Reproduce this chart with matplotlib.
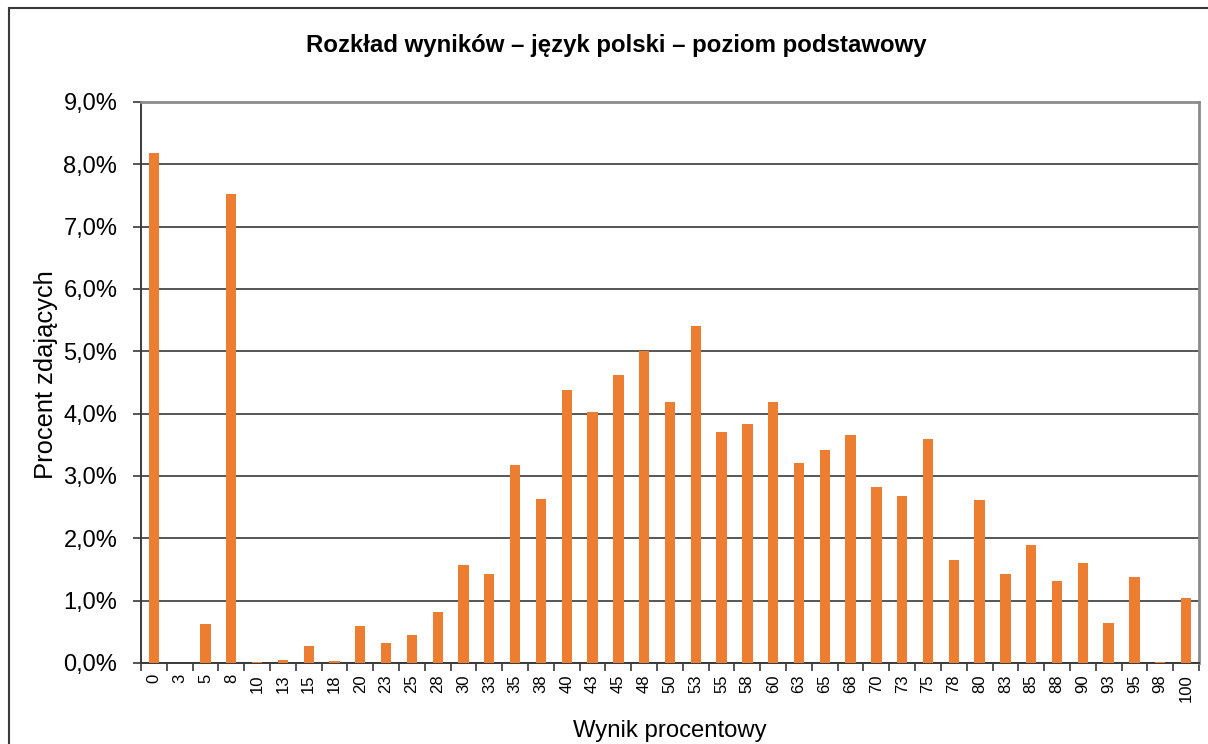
import numpy as np
import matplotlib.pyplot as plt
from matplotlib.patches import Rectangle
from matplotlib.ticker import FuncFormatter

plt.rcParams['font.family'] = ['Liberation Sans', 'DejaVu Sans']

# wyniki procentowe (kategorie osi X)
wyniki = ['0', '3', '5', '8', '10', '13', '15', '18', '20', '23', '25', '28',
          '30', '33', '35', '38', '40', '43', '45', '48', '50', '53', '55',
          '58', '60', '63', '65', '68', '70', '73', '75', '78', '80', '83',
          '85', '88', '90', '93', '95', '98', '100']

# procent zdajacych
procent = [8.18, 0.0, 0.63, 7.52, 0.01, 0.05, 0.27, 0.03, 0.59, 0.32, 0.45, 0.81,
           1.57, 1.43, 3.17, 2.63, 4.38, 4.02, 4.62, 5.00, 4.19, 5.41, 3.71,
           3.83, 4.19, 3.21, 3.41, 3.65, 2.82, 2.67, 3.60, 1.65, 2.62, 1.43,
           1.89, 1.31, 1.60, 0.64, 1.38, 0.02, 1.04]

fig = plt.figure(figsize=(12.08, 7.44), dpi=100)
ax = fig.add_axes([0.1167, 0.109, 0.8758, 0.754])

x = np.arange(len(wyniki))
ax.bar(x, np.array(procent) / 100, width=0.4, color='#ED7D31', zorder=3)

ax.set_xlim(-0.5, len(wyniki) - 0.5)
ax.set_ylim(0, 0.09)
ax.set_yticks(np.arange(0, 0.091, 0.01))
ax.yaxis.set_major_formatter(FuncFormatter(lambda v, p: f'{v * 100:.1f}%'.replace('.', ',')))
ax.grid(axis='y', color='#3a3a3a', linewidth=1.2, zorder=0)

ax.set_xticks(x)
ax.set_xticklabels(wyniki, rotation=90, fontsize=12)
ax.set_xticks(np.arange(-0.5, len(wyniki), 1), minor=True)
ax.tick_params(axis='x', which='major', length=0, pad=8)
ax.tick_params(axis='x', which='minor', length=6, width=1.2, color='#3a3a3a', direction='out')
ax.tick_params(axis='y', length=6, width=1.2, color='#3a3a3a', labelsize=17, pad=11)

for s in ['left', 'bottom']:
    ax.spines[s].set_color('#3a3a3a')
    ax.spines[s].set_linewidth(1.4)
for s in ['top', 'right']:
    ax.spines[s].set_color('#8c8c8c')
    ax.spines[s].set_linewidth(2)

ax.set_xlabel('Wynik procentowy', fontsize=17.2, labelpad=13)
ax.set_ylabel('Procent zdających', fontsize=18.4)
ax.yaxis.set_label_coords(-0.0785, 0.513)
fig.text(0.5104, 0.9395, 'Rozkład wyników – język polski – poziom podstawowy',
         ha='center', va='center', fontsize=17.3, fontweight='bold')

# ramka wykresu
fig.patches.append(Rectangle((9 / 1208, -0.05), 1.2, (744 - 8) / 744 + 0.05,
                             transform=fig.transFigure, fill=False,
                             edgecolor='#3a3a3a', linewidth=1.5))

fig.savefig('out.png', dpi=100)
